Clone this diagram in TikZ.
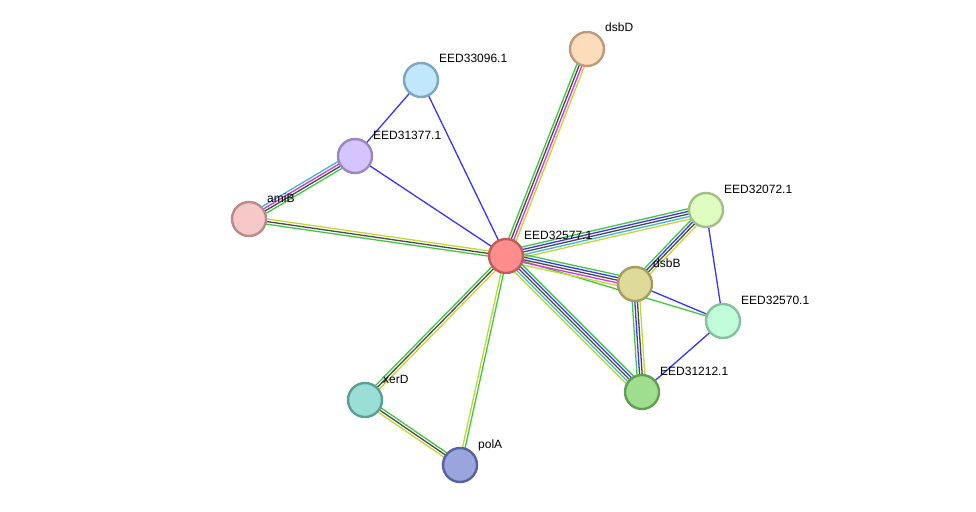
\documentclass[tikz,border=0pt]{standalone}
\usepackage{fontspec}
\setmainfont{Liberation Sans}
\usetikzlibrary{calc,backgrounds}
\definecolor{eg}{HTML}{3FC83F}
\definecolor{eb}{HTML}{3636F5}
\definecolor{ek}{HTML}{4A4A4A}
\definecolor{em}{HTML}{E030E0}
\definecolor{ec}{HTML}{3AB8DC}
\definecolor{ey}{HTML}{C2D832}
\newcommand\bundle[4]{%
  \foreach \col [count=\i] in {#4} {
    \pgfmathsetmacro\off{(\i-(#3+1)/2)*2.6}
    \draw[edgeline,\col] ($(#1.center)!\off pt!-90:(#2.center)$) -- ($(#2.center)!\off pt!90:(#1.center)$);
  }%
}
\tikzset{
  prot/.style={circle,minimum size=34pt,inner sep=0pt,line width=2.4pt},
  lab/.style={anchor=base west,font=\fontsize{12}{14}\selectfont,inner sep=0pt,text=black},
  edgeline/.style={line width=1.3pt},
}
\begin{document}
\begin{tikzpicture}[x=1pt,y=-1pt]
\useasboundingbox (0,0) rectangle (976,511);
\node[prot,fill={rgb,255:red,255;green,141;blue,141},draw={rgb,255:red,192;green,92;blue,92}] (c) at (506,256) {};
\node[prot,fill={rgb,255:red,253;green,220;blue,188},draw={rgb,255:red,190;green,154;blue,122}] (dsbD) at (587,49) {};
\node[prot,fill={rgb,255:red,193;green,231;blue,253},draw={rgb,255:red,127;green,165;blue,188}] (e96) at (421,80) {};
\node[prot,fill={rgb,255:red,213;green,196;blue,253},draw={rgb,255:red,153;green,134;blue,196}] (e77) at (355,156) {};
\node[prot,fill={rgb,255:red,247;green,200;blue,200},draw={rgb,255:red,186;green,138;blue,138}] (amiB) at (249,219) {};
\node[prot,fill={rgb,255:red,223;green,252;blue,193},draw={rgb,255:red,161;green,192;blue,131}] (e72) at (706,210) {};
\node[prot,fill={rgb,255:red,221;green,218;blue,154},draw={rgb,255:red,163;green,158;blue,94}] (dsbB) at (635,284) {};
\node[prot,fill={rgb,255:red,193;green,252;blue,219},draw={rgb,255:red,133;green,192;blue,159}] (e70) at (723,321) {};
\node[prot,fill={rgb,255:red,158;green,222;blue,142},draw={rgb,255:red,96;green,159;blue,82}] (e12) at (642,392) {};
\node[prot,fill={rgb,255:red,154;green,223;blue,213},draw={rgb,255:red,90;green,158;blue,149}] (xerD) at (365,400) {};
\node[prot,fill={rgb,255:red,154;green,165;blue,222},draw={rgb,255:red,85;green,98;blue,162}] (polA) at (460,465) {};
\begin{pgfonlayer}{background}
\bundle{c}{dsbD}{4}{eg,ek,em,ey}
\bundle{c}{e96}{1}{eb}
\bundle{c}{e77}{1}{eb}
\bundle{e96}{e77}{1}{eb}
\bundle{e77}{amiB}{4}{eg,ek,em,ec}
\bundle{amiB}{c}{3}{ey,ek,eg}
\bundle{c}{e72}{5}{eg,eb,ek,ec,ey}
\bundle{c}{e70}{1}{eg}
\bundle{c}{dsbB}{5}{eg,eb,ek,em,ey}
\bundle{dsbB}{e70}{1}{eb}
\bundle{c}{e12}{5}{eg,eb,ek,ec,ey}
\bundle{dsbB}{e72}{4}{eg,eb,ek,ey}
\bundle{dsbB}{e12}{4}{ey,ek,eb,eg}
\bundle{e72}{e70}{1}{eb}
\bundle{e70}{e12}{1}{eb}
\bundle{c}{xerD}{3}{ey,ek,eg}
\bundle{c}{polA}{2}{eg,ey}
\bundle{xerD}{polA}{3}{eg,ek,ey}
\end{pgfonlayer}
\node[lab] (lc) at (524,239) {EED32577.1};
\node[lab] (ldsbD) at (605,32) {dsbD};
\node[lab] (l96) at (439,63) {EED33096.1};
\node[lab] (l77) at (373,139) {EED31377.1};
\node[lab] (lamiB) at (267,202) {amiB};
\node[lab] (l72) at (724,193) {EED32072.1};
\node[lab] (ldsbB) at (653,267) {dsbB};
\node[lab] (l70) at (741,304) {EED32570.1};
\node[lab] (l12) at (660,375) {EED31212.1};
\node[lab] (lxerD) at (383,383) {xerD};
\node[lab] (lpolA) at (478,448) {polA};
\end{tikzpicture}
\end{document}
